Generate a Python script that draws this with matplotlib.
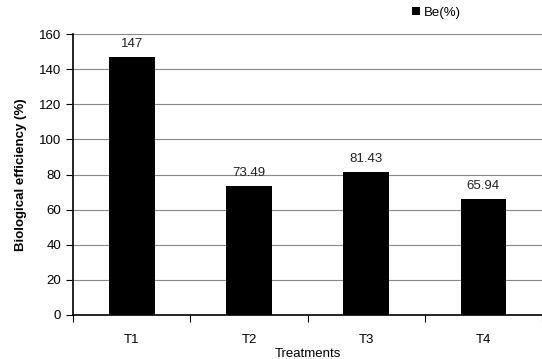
import matplotlib
matplotlib.use("Agg")
import matplotlib.pyplot as plt
import numpy as np

treatments = ["T1", "T2", "T3", "T4"]
be_values = [147, 73.49, 81.43, 65.94]
value_labels = ["147", "73.49", "81.43", "65.94"]
y_ticks = [0, 20, 40, 60, 80, 100, 120, 140, 160]

plt.rcParams["font.family"] = ["Liberation Sans", "DejaVu Sans"]

fig = plt.figure(figsize=(5.42, 3.59), dpi=100)
ax = fig.add_axes([0.135, 0.1226, 0.865, 0.7824])

x = np.arange(len(treatments))
ax.bar(x, be_values, width=0.39, color="black", label="Be(%)", zorder=3)

for xi, v, lab in zip(x, be_values, value_labels):
    ax.text(xi, v + 4, lab, ha="center", va="bottom", fontsize=9.5, color="#222222")

ax.set_ylim(0, 160)
ax.set_xlim(-0.5, 3.47)
ax.set_yticks(y_ticks)
ax.set_yticklabels([str(t) for t in y_ticks], fontsize=9.5)
ax.yaxis.grid(True, color="#888888", linewidth=0.8, zorder=0)

ax.set_xticks(np.arange(-0.5, 4, 1.0))
ax.set_xticklabels([])
ax.set_xticks(x, minor=True)
ax.set_xticklabels(treatments, minor=True, fontsize=9.5)
ax.tick_params(axis="x", which="minor", length=0, pad=14)
ax.tick_params(axis="x", which="major", length=5, direction="out")
ax.tick_params(axis="y", length=5, direction="out")

for s in ["top", "right"]:
    ax.spines[s].set_visible(False)
ax.spines["left"].set_linewidth(1.2)
ax.spines["bottom"].set_linewidth(1.2)

ax.set_ylabel("Biological efficiency (%)", fontsize=9.5, fontweight="bold", labelpad=9)
ax.set_xlabel("Treatments", fontsize=9.5, labelpad=1)

ax.legend(loc="upper left", bbox_to_anchor=(0.697, 1.14), frameon=False,
          fontsize=9.5, handlelength=0.6, handleheight=0.6, handletextpad=0.3)

fig.savefig("out.png", dpi=100)
